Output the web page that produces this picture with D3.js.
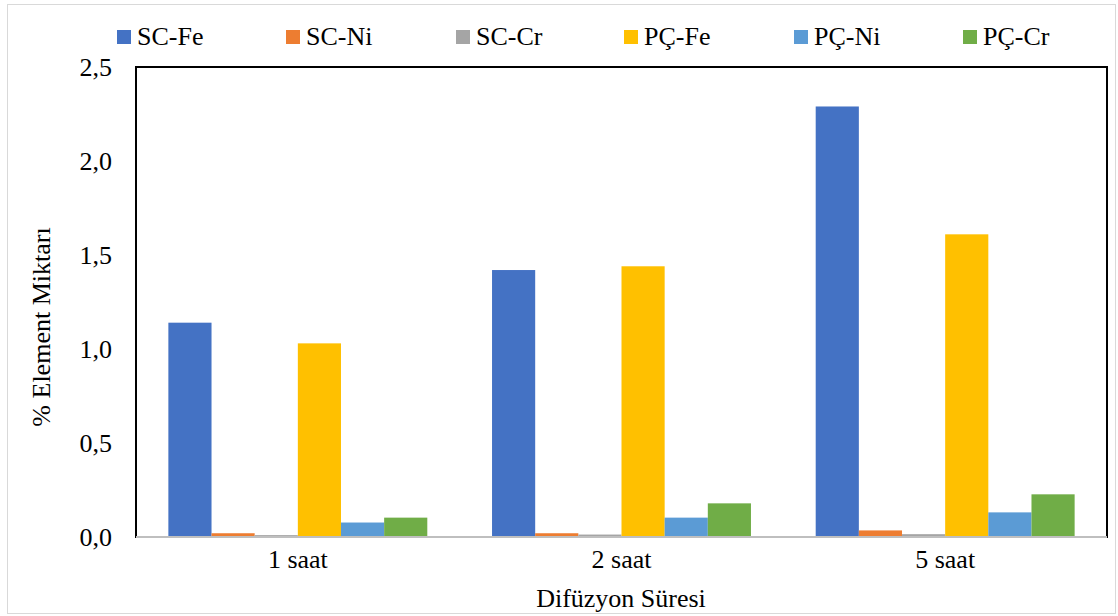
<!DOCTYPE html>
<html>
<head>
<meta charset="utf-8">
<script src="https://cdn.jsdelivr.net/npm/d3@7/dist/d3.min.js"></script>
<style>
  html, body { margin: 0; padding: 0; background: #fff; }
  svg { display: block; }
  text { font-family: "Liberation Serif", "Times New Roman", serif; fill: #000; }
</style>
</head>
<body>
<svg id="chart" width="1118" height="616"></svg>
<script>
// Diffusion durations (categories)
const categories = ["1 saat", "2 saat", "5 saat"];

// Series names and colours
const seriesNames = ["SC-Fe", "SC-Ni", "SC-Cr", "PÇ-Fe", "PÇ-Ni", "PÇ-Cr"];
const seriesColors = ["#4472C4", "#ED7D31", "#A5A5A5", "#FFC000", "#5B9BD5", "#70AD47"];

// Element amounts (%) per series, one value per category
const scFe = [1.14, 1.42, 2.29];
const scNi = [0.02, 0.02, 0.035];
const scCr = [0.01, 0.013, 0.015];
const pcFe = [1.03, 1.44, 1.61];
const pcNi = [0.077, 0.103, 0.131];
const pcCr = [0.103, 0.179, 0.227];

// Y-axis ticks
const yTicks = [0, 0.5, 1.0, 1.5, 2.0, 2.5];

const seriesValues = [scFe, scNi, scCr, pcFe, pcNi, pcCr];

const FONT = "'Liberation Serif', 'Times New Roman', serif";
const FS = "26px";

const svg = d3.select("#chart");
const plot = { left: 136, right: 1107, top: 67, bottom: 537 };

// Outer chart frame
svg.append("rect")
  .attr("x", 7.5).attr("y", 4.5)
  .attr("width", 1108).attr("height", 609)
  .attr("fill", "#fff").attr("stroke", "#d9d9d9").attr("stroke-width", 1);

const x0 = d3.scaleBand()
  .domain(categories)
  .range([plot.left, plot.right])
  .paddingInner(0.2)
  .paddingOuter(0.1);

const x1 = d3.scaleBand()
  .domain(seriesNames)
  .range([0, x0.bandwidth()]);

const y = d3.scaleLinear()
  .domain([0, 2.5])
  .range([plot.bottom, plot.top]);

// Bars
const groups = svg.append("g").selectAll("g")
  .data(categories)
  .join("g")
  .attr("transform", d => `translate(${x0(d)},0)`);

groups.selectAll("rect")
  .data((c, i) => seriesNames.map((s, j) => ({ s, j, v: seriesValues[j][i] })))
  .join("rect")
  .attr("x", d => x1(d.s))
  .attr("width", x1.bandwidth())
  .attr("y", d => y(d.v))
  .attr("height", d => y(0) - y(d.v))
  .attr("fill", d => seriesColors[d.j]);

// Plot frame
svg.append("rect")
  .attr("x", plot.left).attr("y", plot.top)
  .attr("width", plot.right - plot.left).attr("height", plot.bottom - plot.top)
  .attr("fill", "none").attr("stroke", "#000").attr("stroke-width", 2);

// Y axis
const yAxis = d3.axisLeft(y)
  .tickValues(yTicks)
  .tickSize(0)
  .tickPadding(24)
  .tickFormat(d => d3.format(".1f")(d).replace(".", ","));
const yg = svg.append("g").attr("transform", `translate(${plot.left},0)`).call(yAxis);
yg.select(".domain").remove();
yg.selectAll("text")
  .style("font-family", FONT)
  .style("font-size", FS);

// X axis
const xAxis = d3.axisBottom(x0).tickSize(0).tickPadding(13);
const xg = svg.append("g").attr("transform", `translate(0,${plot.bottom})`).call(xAxis);
xg.select(".domain")
  .attr("stroke", "#bfbfbf").attr("stroke-width", 2)
  .attr("d", `M${plot.left},0H${plot.right}`);
xg.selectAll("text")
  .style("font-family", FONT)
  .style("font-size", FS);

// Axis titles
svg.append("text")
  .attr("x", 621)
  .attr("y", 607)
  .attr("text-anchor", "middle")
  .style("font-size", FS)
  .text("Difüzyon Süresi");

svg.append("text")
  .attr("transform", `translate(50,327) rotate(-90)`)
  .attr("text-anchor", "middle")
  .style("font-size", FS)
  .text("% Element Miktarı");

// Legend
const legendX = [117, 286, 456, 624, 794, 963];
const legend = svg.append("g").selectAll("g")
  .data(seriesNames)
  .join("g")
  .attr("transform", (d, i) => `translate(${legendX[i]},30)`);
legend.append("rect")
  .attr("width", 14).attr("height", 14)
  .attr("fill", (d, i) => seriesColors[i]);
legend.append("text")
  .attr("x", 20).attr("y", 15)
  .style("font-size", FS)
  .text(d => d);
</script>
</body>
</html>
